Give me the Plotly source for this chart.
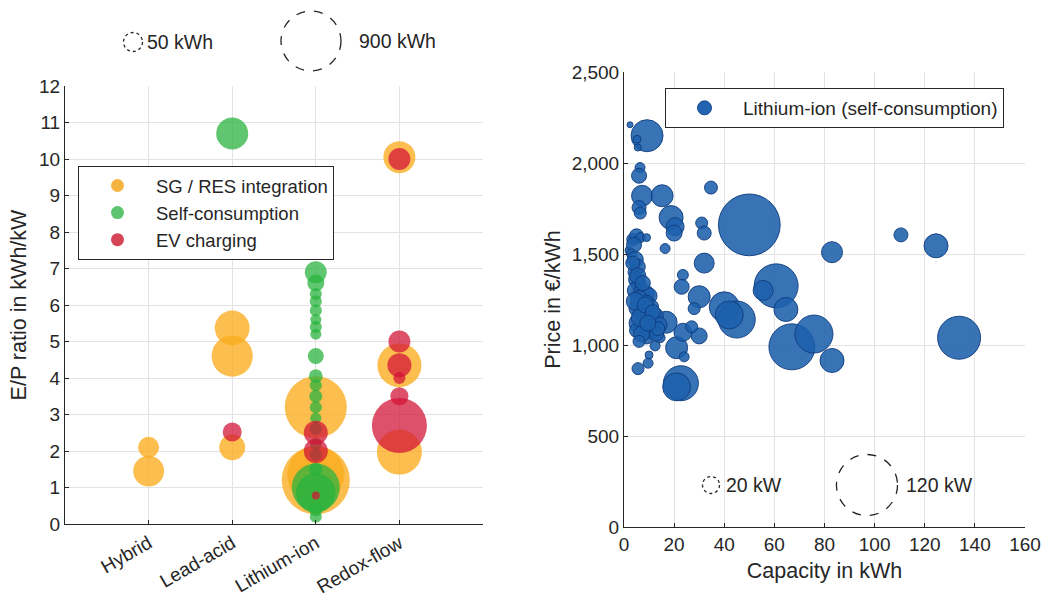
import plotly.graph_objects as go

FONT = "Liberation Sans, Arial, Helvetica, sans-serif"
INK = "#262626"

# ---------------- Left chart data ----------------
categories = ["Hybrid", "Lead-acid", "Lithium-ion", "Redox-flow"]

# SG / RES integration (technology, E/P ratio, capacity kWh)
sg_tech = ["Hybrid", "Hybrid", "Lead-acid", "Lead-acid", "Lead-acid",
           "Lithium-ion", "Lithium-ion", "Lithium-ion",
           "Redox-flow", "Redox-flow", "Redox-flow"]
sg_ep = [2.1, 1.45, 5.37, 4.6, 2.1, 3.2, 1.2, 1.35, 10.05, 4.35, 1.97]
sg_cap = [65, 170, 230, 350, 110, 980, 1240, 800, 186, 414, 438]

# Self-consumption
sc_tech = ["Lead-acid"] + ["Lithium-ion"] * 22
sc_ep = [10.7, 6.9, 6.6, 6.3, 6.1, 5.85, 5.6, 5.4, 5.2, 4.6, 4.05, 3.8,
         3.5, 3.2, 2.9, 2.6, 2.2, 1.9, 1.5, 1.0, 0.85, 0.4, 0.2]
sc_cap = [186, 72, 38, 16, 16, 16, 13, 16, 13, 33, 22, 16,
          19, 16, 13, 16, 16, 16, 22, 515, 320, 22, 16]

# EV charging
ev_tech = ["Lead-acid", "Lithium-ion", "Lithium-ion", "Lithium-ion",
           "Redox-flow", "Redox-flow", "Redox-flow", "Redox-flow", "Redox-flow", "Redox-flow"]
ev_ep = [2.52, 2.5, 2.0, 0.78, 10.0, 5.0, 4.35, 4.0, 3.5, 2.7]
ev_cap = [50, 90, 90, 5.7, 72, 72, 90, 16, 44, 726]

# ---------------- Right chart data ----------------
# Lithium-ion (self-consumption): capacity kWh, price EUR/kWh, power kW
li_cap = [2.4, 9.2, 5.2, 5.5, 6.4, 6.0, 7.2, 15.2, 6.0, 6.5, 18.8, 20.4, 20.0,
          34.7, 31, 32, 50, 110.5, 124.5, 83, 16.4, 32, 23.5, 23, 30, 28, 40,
          45, 42, 60.7, 55.5, 64.6, 67, 75.8, 83, 133.7, 22.7, 21, 21, 24, 23.5,
          30, 27, 16.8, 5.6, 9.6, 10, 12.4, 14.4,
          2.0, 3.5, 5, 6.5, 9, 4, 3, 4.5, 5.5, 4, 5, 6, 4.5, 7, 8.5, 10, 6, 9,
          11, 5, 7.5, 10, 12.5, 6, 8, 11, 14, 5, 9, 13, 7,
          3.5, 5.5, 7.5, 4.5, 6.5, 8.5, 11.5, 13.5, 9.5, 6.0]
li_price = [2210, 2150, 2130, 2085, 1975, 1930, 1820, 1820, 1755, 1725, 1700, 1650, 1615,
            1865, 1670, 1615, 1660, 1605, 1545, 1510, 1530, 1450, 1385, 1320, 1265, 1200, 1210,
            1140, 1165, 1325, 1300, 1195, 990, 1060, 915, 1040, 790, 770, 985, 935, 1070,
            1050, 1100, 1125, 870, 900, 945, 995, 1040,
            1520, 1580, 1600, 1590, 1590, 1550, 1500, 1470, 1430, 1400, 1360, 1330, 1300,
            1290, 1280, 1270, 1250, 1230, 1210, 1200, 1180, 1160, 1160, 1120, 1100, 1080,
            1110, 1080, 1050, 1060, 1060,
            1450, 1380, 1340, 1240, 1150, 1220, 1180, 1090, 1120, 1020]
li_power = [4.6, 48.5, 6.9, 5.8, 9.5, 16.8, 26.9, 28.7, 15.2, 12.3, 32.4, 21.6, 18.3,
            13.7, 12.3, 15.2, 122, 15.2, 32.4, 26.9, 9.5, 25.1, 10.8, 16.8, 28.7, 12.3, 44.3,
            59.4, 40.2, 75.8, 25.1, 32.4, 80.7, 61.7, 32.4, 73.4, 55, 40, 28.7, 9.5, 21.6,
            18.3, 12.3, 28.7, 12.3, 9.5, 6.9, 9.5, 9.5,
            6.9, 12.3, 15.2, 9.5, 6.9, 16.8, 9.5, 18.3, 16.8, 12.3, 18.3, 16.8, 18.3,
            18.3, 21.6, 18.3, 21.6, 18.3, 15.2, 16.8, 21.6, 21.6, 18.3, 25.1, 25.1, 21.6,
            18.3, 15.2, 18.3, 15.2, 18.3,
            15.2, 18.3, 16.8, 21.6, 21.6, 18.3, 16.8, 15.2, 18.3, 12.3]

size_ref_left = [50, 900]      # kWh
size_ref_right = [20, 120]     # kW


def px_left(kwh):
    return 4.0 * kwh ** 0.398


def px_right(kw):
    return 2.01 * kw ** 0.713


ORANGE = "rgba(250,172,30,0.78)"
GREEN = "rgba(40,180,62,0.74)"
RED = "rgba(210,20,55,0.74)"
BLUE = "rgba(28,96,172,0.88)"

fig = go.Figure()

for tech, ep, cap, col in [(sg_tech, sg_ep, sg_cap, ORANGE),
                           (sc_tech, sc_ep, sc_cap, GREEN),
                           (ev_tech, ev_ep, ev_cap, RED)]:
    fig.add_trace(go.Scatter(
        x=tech, y=ep, mode="markers", showlegend=False, hoverinfo="skip",
        marker=dict(size=[px_left(c) for c in cap], color=col, opacity=1,
                    line=dict(width=0)),
        xaxis="x", yaxis="y"))

fig.add_trace(go.Scatter(
    x=li_cap, y=li_price, mode="markers", showlegend=False, hoverinfo="skip",
    marker=dict(size=[px_right(p) for p in li_power], color=BLUE, opacity=1,
                line=dict(width=1, color="rgba(15,60,125,0.9)")),
    xaxis="x2", yaxis="y2"))

# legend-only entries
for i, (name, col) in enumerate([("SG / RES integration", "rgb(245,180,64)"),
                                 ("Self-consumption", "rgb(92,196,110)"),
                                 ("EV charging", "rgb(214,69,85)")]):
    fig.add_trace(go.Scatter(x=[None], y=[None], mode="markers", name=name,
                             legendgroup=str(i), legend="legend",
                             marker=dict(size=13, color=col), xaxis="x", yaxis="y"))
fig.add_trace(go.Scatter(x=[None], y=[None], mode="markers",
                         name="Lithium-ion (self-consumption)", legend="legend2",
                         marker=dict(size=14, color="rgb(35,100,178)",
                                     line=dict(width=1, color="rgb(20,70,140)")),
                         xaxis="x2", yaxis="y2"))

W, H = 1044, 602


def px(x):
    return x / W


def py(y):
    return 1 - y / H


axis_common = dict(showgrid=True, gridcolor="#E3E3E3", gridwidth=1, zeroline=False,
                   showline=True, linecolor=INK, linewidth=1, ticks="inside",
                   ticklen=4, tickcolor=INK, automargin=False,
                   tickfont=dict(size=19, color=INK, family=FONT))
TITLE_FONT = dict(size=21.5, color=INK, family=FONT)
LEG_FONT = dict(size=18.5, color=INK, family=FONT)

shapes = []
annotations = []


def size_legend(cx, cy, d, dash, label, tx):
    r = d / 2
    shapes.append(dict(type="circle", xref="paper", yref="paper",
                       xsizemode="pixel", ysizemode="pixel",
                       xanchor=px(cx), yanchor=py(cy),
                       x0=-r, x1=r, y0=-r, y1=r,
                       line=dict(color=INK, width=1.3, dash=dash)))
    annotations.append(dict(text=label, xref="paper", yref="paper", x=px(tx), y=py(cy),
                            xanchor="left", yanchor="middle", showarrow=False,
                            font=dict(size=19.5, color=INK, family=FONT)))


size_legend(133, 42, px_left(size_ref_left[0]), "dot", f"{size_ref_left[0]} kWh", 145)
size_legend(311, 41, px_left(size_ref_left[1]), "dash", f"{size_ref_left[1]} kWh", 357)
size_legend(711, 485, px_right(size_ref_right[0]), "dot", f"{size_ref_right[0]} kW", 724)
size_legend(867, 485, px_right(size_ref_right[1]), "dash", f"{size_ref_right[1]} kW", 904)

fig.update_layout(
    width=W, height=H, margin=dict(l=0, r=0, t=0, b=0),
    paper_bgcolor="white", plot_bgcolor="white",
    font=dict(family=FONT, color=INK, size=19),
    xaxis=dict(axis_common, domain=[px(65), px(483)], type="category",
               categoryorder="array", categoryarray=categories,
               range=[-1, 4], tickangle=-30, anchor="y"),
    yaxis=dict(axis_common, domain=[py(524), py(86)], range=[0, 12], dtick=1,
               anchor="x",
               title=dict(text="E/P ratio in kWh/kW", font=TITLE_FONT, standoff=6)),
    xaxis2=dict(axis_common, domain=[px(624), px(1025)], range=[0, 160], dtick=20,
                anchor="y2",
                title=dict(text="Capacity in kWh", font=TITLE_FONT, standoff=9)),
    yaxis2=dict(axis_common, domain=[py(527), py(72)], range=[0, 2500], dtick=500,
                tickformat=",", anchor="x2",
                title=dict(text="Price in €/kWh", font=TITLE_FONT, standoff=5)),
    legend=dict(x=px(78), y=py(166), xanchor="left", yanchor="top",
                bgcolor="white", bordercolor=INK, borderwidth=1, font=LEG_FONT,
                itemwidth=67, traceorder="grouped", tracegroupgap=0),
    legend2=dict(x=px(665), y=py(88), xanchor="left", yanchor="top",
                 bgcolor="white", bordercolor=INK, borderwidth=1,
                 font=dict(size=19, color=INK, family=FONT), itemwidth=67),
    shapes=shapes, annotations=annotations,
)

# remove the browser's default 8px body margin so the figure fills the window
fig.write_html("out.html", config={"displayModeBar": False},
               post_script="document.body.style.margin='0px';")
